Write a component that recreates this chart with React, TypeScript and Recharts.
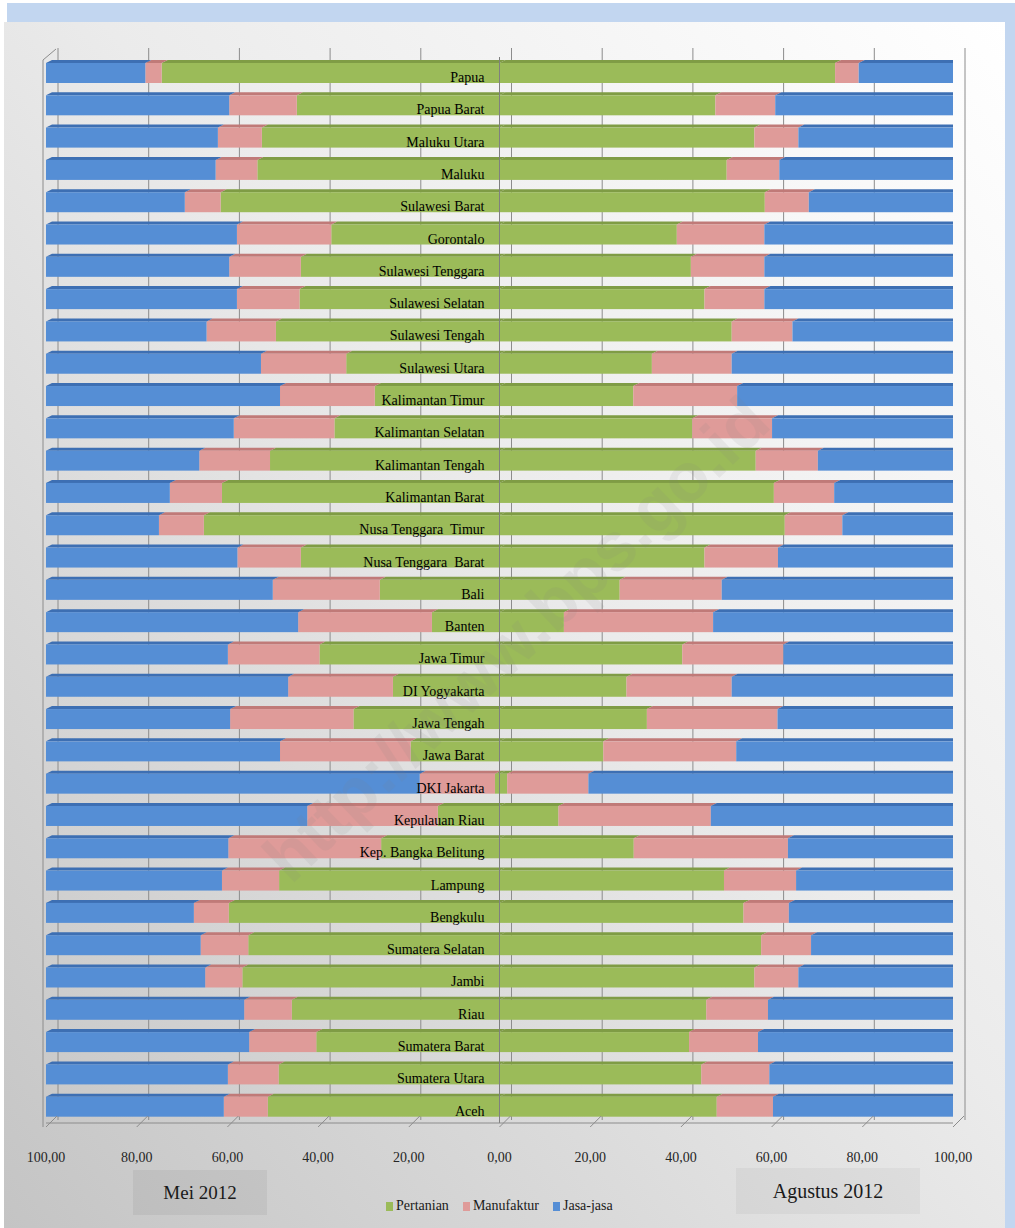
import React from 'react';
import {
  BarChart, Bar, XAxis, YAxis, CartesianGrid, ReferenceLine, LabelList
} from 'recharts';

const provinces = [
  'Papua', 'Papua Barat', 'Maluku Utara', 'Maluku', 'Sulawesi Barat', 'Gorontalo',
  'Sulawesi Tenggara', 'Sulawesi Selatan', 'Sulawesi Tengah', 'Sulawesi Utara',
  'Kalimantan Timur', 'Kalimantan Selatan', 'Kalimantan Tengah', 'Kalimantan Barat',
  'Nusa Tenggara  Timur', 'Nusa Tenggara  Barat', 'Bali', 'Banten', 'Jawa Timur',
  'DI Yogyakarta', 'Jawa Tengah', 'Jawa Barat', 'DKI Jakarta', 'Kepulauan Riau',
  'Kep. Bangka Belitung', 'Lampung', 'Bengkulu', 'Sumatera Selatan', 'Jambi', 'Riau',
  'Sumatera Barat', 'Sumatera Utara', 'Aceh',
];

// Mei 2012 (left side)
const meiPertanian = [
  74.5, 44.7, 52.4, 53.4, 61.5, 37.1, 43.8, 44.1, 49.3, 33.8, 27.5, 36.4, 50.6, 61.2,
  65.2, 43.8, 26.4, 14.9, 39.7, 23.5, 32.2, 19.6, 1.0, 13.6, 26.1, 48.6, 59.7, 55.4,
  56.7, 45.8, 40.4, 48.7, 51.1,
];
const meiManufaktur = [
  3.6, 14.9, 9.7, 9.2, 7.9, 20.8, 15.8, 13.8, 15.3, 18.8, 20.9, 22.2, 15.6, 11.5,
  9.9, 14.0, 23.6, 29.5, 20.2, 23.1, 27.2, 28.8, 16.6, 28.8, 33.7, 12.6, 7.7, 10.5,
  8.2, 10.5, 14.8, 11.2, 9.7,
];
const meiJasa = [
  21.9, 40.4, 37.9, 37.4, 30.6, 42.1, 40.4, 42.1, 35.4, 47.4, 51.6, 41.4, 33.8, 27.3,
  24.9, 42.2, 50.0, 55.6, 40.1, 53.4, 40.6, 51.6, 82.4, 57.6, 40.2, 38.8, 32.6, 34.1,
  35.1, 43.7, 44.8, 40.1, 39.2,
];

// Agustus 2012 (right side)
const agsPertanian = [
  74.0, 47.6, 56.2, 50.1, 58.5, 39.1, 42.2, 45.2, 51.2, 33.6, 29.5, 42.5, 56.5, 60.5,
  62.9, 45.2, 26.5, 14.2, 40.3, 28.0, 32.5, 22.9, 1.7, 13.0, 29.6, 49.5, 53.8, 57.7,
  56.2, 45.6, 41.8, 44.5, 47.9,
];
const agsManufaktur = [
  5.2, 13.2, 9.7, 11.6, 9.7, 19.3, 16.2, 13.2, 13.4, 17.6, 22.9, 17.6, 13.7, 13.3,
  12.7, 16.2, 22.5, 32.9, 22.3, 23.2, 28.8, 29.3, 17.9, 33.6, 34.0, 15.9, 10.0, 11.0,
  9.7, 13.6, 15.2, 15.0, 12.4,
];
const agsJasa = [
  20.8, 39.2, 34.1, 38.3, 31.8, 41.6, 41.6, 41.6, 35.4, 48.8, 47.6, 39.9, 29.8, 26.2,
  24.4, 38.6, 51.0, 52.9, 37.4, 48.8, 38.7, 47.8, 80.4, 53.4, 36.4, 34.6, 36.2, 31.3,
  34.1, 40.8, 43.0, 40.5, 39.7,
];

const xTicks = [-100, -80, -60, -40, -20, 0, 20, 40, 60, 80, 100];

const data = provinces.map((name, i) => ({
  name,
  mPert: -meiPertanian[i],
  mMan: -meiManufaktur[i],
  mJasa: -meiJasa[i],
  aPert: agsPertanian[i],
  aMan: agsManufaktur[i],
  aJasa: agsJasa[i],
}));

const W = 1015;
const H = 1228;
// the x axis keeps its own 30px band below the plot
const M = { top: 57, right: 62, bottom: 75, left: 46 };
const CENTER = M.left + (W - M.left - M.right) / 2;
const FONT = "'Liberation Serif', 'DejaVu Serif', serif";

const GREEN = '#9bbb59';
const PINK = '#df9b99';
const BLUE = '#558ed5';
const TOPS: Record<string, string> = { [GREEN]: '#7f9c45', [PINK]: '#c07a78', [BLUE]: '#3d6fb3' };
const DX = 6;
const DY = 3;

const Bar3D = (props: any) => {
  const { x, y, width, height, fill, cap } = props;
  if (x == null || !width) return null;
  const x0 = Math.min(x, x + width);
  const w = Math.abs(width);
  const y0 = Math.min(y, y + height);
  const h = Math.abs(height);
  const top = TOPS[fill] || fill;
  return (
    <g>
      <polygon points={`${x0},${y0} ${x0 + DX},${y0 - DY} ${x0 + w + DX},${y0 - DY} ${x0 + w},${y0}`} fill={top} />
      <rect x={x0} y={y0} width={w} height={h} fill={fill} />
      {cap && (
        <polygon points={`${x0 + w},${y0} ${x0 + w + DX},${y0 - DY} ${x0 + w + DX},${y0 + h - DY} ${x0 + w},${y0 + h}`} fill={top} />
      )}
    </g>
  );
};

const fmt = (v: number) => Math.abs(v).toFixed(2).replace('.', ',');

const FloorTick = (props: any) => {
  const { x, y, payload } = props;
  return (
    <g>
      <line x1={x} y1={y + 4} x2={x + 11} y2={y - 7} stroke="#8c8c8c" />
      <text x={x} y={y + 39} textAnchor="middle" fontFamily={FONT} fontSize={14} fill="#262626">
        {fmt(payload.value)}
      </text>
    </g>
  );
};

const ProvLabel = (props: any) => {
  const { y, height, value, viewBox } = props;
  const yy = y ?? viewBox?.y;
  const hh = height ?? viewBox?.height;
  return (
    <text x={CENTER - 15} y={yy + hh / 2 + 9} textAnchor="end" fontFamily={FONT} fontSize={14}
      fill="#000" style={{ whiteSpace: 'pre' }}>
      {value}
    </text>
  );
};

const legendItems = [
  { label: 'Pertanian', color: GREEN },
  { label: 'Manufaktur', color: PINK },
  { label: 'Jasa-jasa', color: BLUE },
];

const backGrid = (p: any) => {
  const left = p?.offset?.left ?? M.left;
  const width = p?.offset?.width ?? (W - M.left - M.right);
  return xTicks.map(t => left + ((t + 100) / 200) * width + 12);
};

export default function App() {
  return (
    <div style={{ position: 'absolute', left: 0, top: 0, width: W, height: H, overflow: 'hidden', background: '#fff' }}>
      <div style={{ position: 'absolute', left: 7, top: 3, width: W - 7, height: 19, background: '#c2d6f0' }} />
      <div style={{ position: 'absolute', left: 1005, top: 3, width: 10, height: H, background: '#c2d6f0' }} />
      <div style={{
        position: 'absolute', left: 4, top: 22, width: 1001, height: H - 22,
        background: 'linear-gradient(to bottom left, #ffffff 0%, #ebebeb 45%, #c4c4c4 100%)',
      }} />
      <svg width={W} height={H} style={{ position: 'absolute', left: 0, top: 0 }}>
        <line x1={43} y1={60} x2={43} y2={1127} stroke="#8c8c8c" />
        <line x1={43} y1={60} x2={56} y2={49} stroke="#8c8c8c" />
      </svg>
      <div style={{ position: 'absolute', left: 0, top: 0 }}>
        <BarChart width={W} height={H} data={data} layout="vertical" stackOffset="sign"
          margin={M} barSize={20}>
          <CartesianGrid horizontal={false} stroke="#8c8c8c" y={48} height={1072}
            verticalCoordinatesGenerator={backGrid} />
          <XAxis type="number" domain={[-100, 100]} ticks={xTicks} allowDataOverflow
            axisLine={{ stroke: '#8c8c8c' }} tickLine={false} tickSize={0} tickMargin={0}
            tick={<FloorTick />} interval={0} />
          <YAxis type="category" dataKey="name" hide />
          <Bar dataKey="mPert" name="Pertanian" stackId="s" fill={GREEN} isAnimationActive={false}
            shape={(p: any) => <Bar3D {...p} />} />
          <Bar dataKey="mMan" name="Manufaktur" stackId="s" fill={PINK} isAnimationActive={false}
            shape={(p: any) => <Bar3D {...p} />} />
          <Bar dataKey="mJasa" name="Jasa-jasa" stackId="s" fill={BLUE} isAnimationActive={false}
            shape={(p: any) => <Bar3D {...p} />} />
          <Bar dataKey="aPert" name="Pertanian" stackId="s" fill={GREEN} isAnimationActive={false}
            shape={(p: any) => <Bar3D {...p} />} />
          <Bar dataKey="aMan" name="Manufaktur" stackId="s" fill={PINK} isAnimationActive={false}
            shape={(p: any) => <Bar3D {...p} />} />
          <Bar dataKey="aJasa" name="Jasa-jasa" stackId="s" fill={BLUE} isAnimationActive={false}
            shape={(p: any) => <Bar3D {...p} cap />}>
            <LabelList dataKey="name" content={<ProvLabel />} />
          </Bar>
          <ReferenceLine x={0} stroke="#7f7f7f" />
        </BarChart>
      </div>
      <div style={{
        position: 'absolute', left: 386, top: 1198, display: 'flex', gap: 14,
        fontFamily: FONT, fontSize: 14, color: '#1a1a1a', alignItems: 'center',
      }}>
        {legendItems.map(it => (
          <div key={it.label} style={{ display: 'flex', alignItems: 'center', gap: 3 }}>
            <span style={{ display: 'inline-block', width: 7, height: 9, background: it.color }} />
            <span>{it.label}</span>
          </div>
        ))}
      </div>
      <div style={{
        position: 'absolute', left: 133, top: 1170, width: 134, height: 45, background: 'rgba(0,0,0,0.05)',
        display: 'flex', alignItems: 'center', justifyContent: 'center', fontFamily: FONT, fontSize: 19, color: '#1a1a1a',
      }}>Mei 2012</div>
      <div style={{
        position: 'absolute', left: 736, top: 1168, width: 184, height: 46, background: 'rgba(0,0,0,0.04)',
        display: 'flex', alignItems: 'center', justifyContent: 'center', fontFamily: FONT, fontSize: 20, color: '#1a1a1a',
      }}>Agustus 2012</div>
      <svg width={W} height={H} style={{ position: 'absolute', left: 0, top: 0, pointerEvents: 'none' }}>
        <text x={517} y={662} textAnchor="middle" transform="rotate(-43.6 517 640)"
          fontFamily="'Liberation Sans', Arial, sans-serif" fontWeight="bold" fontSize={68}
          fill="#808080" opacity={0.1}>
          http://www.bps.go.id
        </text>
      </svg>
    </div>
  );
}
